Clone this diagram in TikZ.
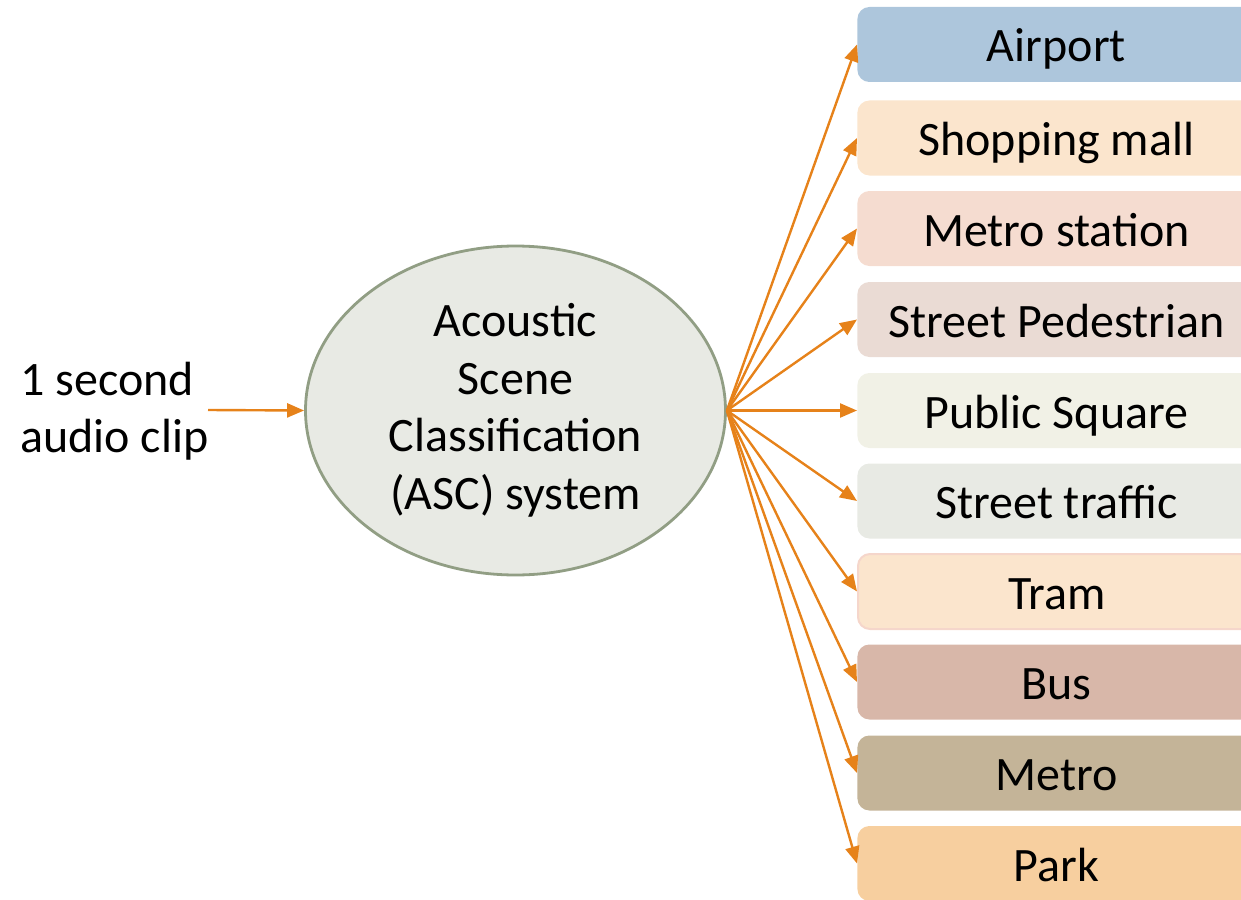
\documentclass[tikz,border=0pt]{standalone}
\usepackage{fontspec}
\setmainfont{Carlito}
\usetikzlibrary{arrows.meta,shapes.geometric}
\definecolor{arrc}{HTML}{E6821A}
\definecolor{c1}{HTML}{ADC6DC}
\definecolor{c2}{HTML}{FBE5CD}
\definecolor{c3}{HTML}{F5DCD0}
\definecolor{c4}{HTML}{EADBD4}
\definecolor{c5}{HTML}{F1F1E6}
\definecolor{c6}{HTML}{E8EAE4}
\definecolor{c7}{HTML}{FBE5CD}
\definecolor{c7b}{HTML}{F5D6CB}
\definecolor{c8}{HTML}{D8B7A9}
\definecolor{c9}{HTML}{C4B498}
\definecolor{c10}{HTML}{F7CF9F}
\definecolor{ellfill}{HTML}{E8EAE4}
\definecolor{elldraw}{HTML}{919E84}
\tikzset{
  catbox/.style={rectangle, rounded corners=6pt, minimum width=199pt, minimum height=37.5pt, anchor=west, inner sep=0pt, text height=21.5pt, text depth=4pt, font=\fontsize{24}{28}\selectfont},
  arr/.style={draw=arrc, line width=1.2pt, -{Triangle[length=8.5pt,width=7pt]}}
}
\begin{document}
\begin{tikzpicture}[x=0.5pt,y=-0.5pt]
\useasboundingbox (0,0) rectangle (1241,899);
\clip (0,0) rectangle (1241,899);
\node[ellipse, fill=ellfill, draw=elldraw, line width=1.4pt, minimum width=210pt, minimum height=164.5pt, inner sep=0pt, align=center, font=\fontsize{24}{28.75}\selectfont] (asc) at (515.5,410.5) {Acoustic\\Scene\\Classification\\(ASC) system};
\node[align=left, anchor=west, inner sep=0pt, font=\fontsize{24}{28.75}\selectfont] (inp) at (20,411) {1 second\\audio clip};
\coordinate (inpend) at (208,410);
\draw[arr] (inpend) -- (asc.west);
\node[catbox, fill=c1] (b1) at (857,44.5) {Airport};
\node[catbox, fill=c2] (b2) at (857,138) {Shopping mall};
\node[catbox, fill=c3] (b3) at (857,228.5) {Metro station};
\node[catbox, fill=c4] (b4) at (857,319.5) {Street Pedestrian};
\node[catbox, fill=c5] (b5) at (857,410.5) {Public Square};
\node[catbox, fill=c6] (b6) at (857,501) {Street traffic};
\node[catbox, fill=c7, draw=c7b, line width=1pt] (b7) at (857,591.5) {Tram};
\node[catbox, fill=c8] (b8) at (857,682) {Bus};
\node[catbox, fill=c9] (b9) at (857,773) {Metro};
\node[catbox, fill=c10] (b10) at (857,863.5) {Park};
\foreach \i in {1,...,10} {\draw[arr] (asc.east) -- (b\i.west);}
\end{tikzpicture}
\end{document}
